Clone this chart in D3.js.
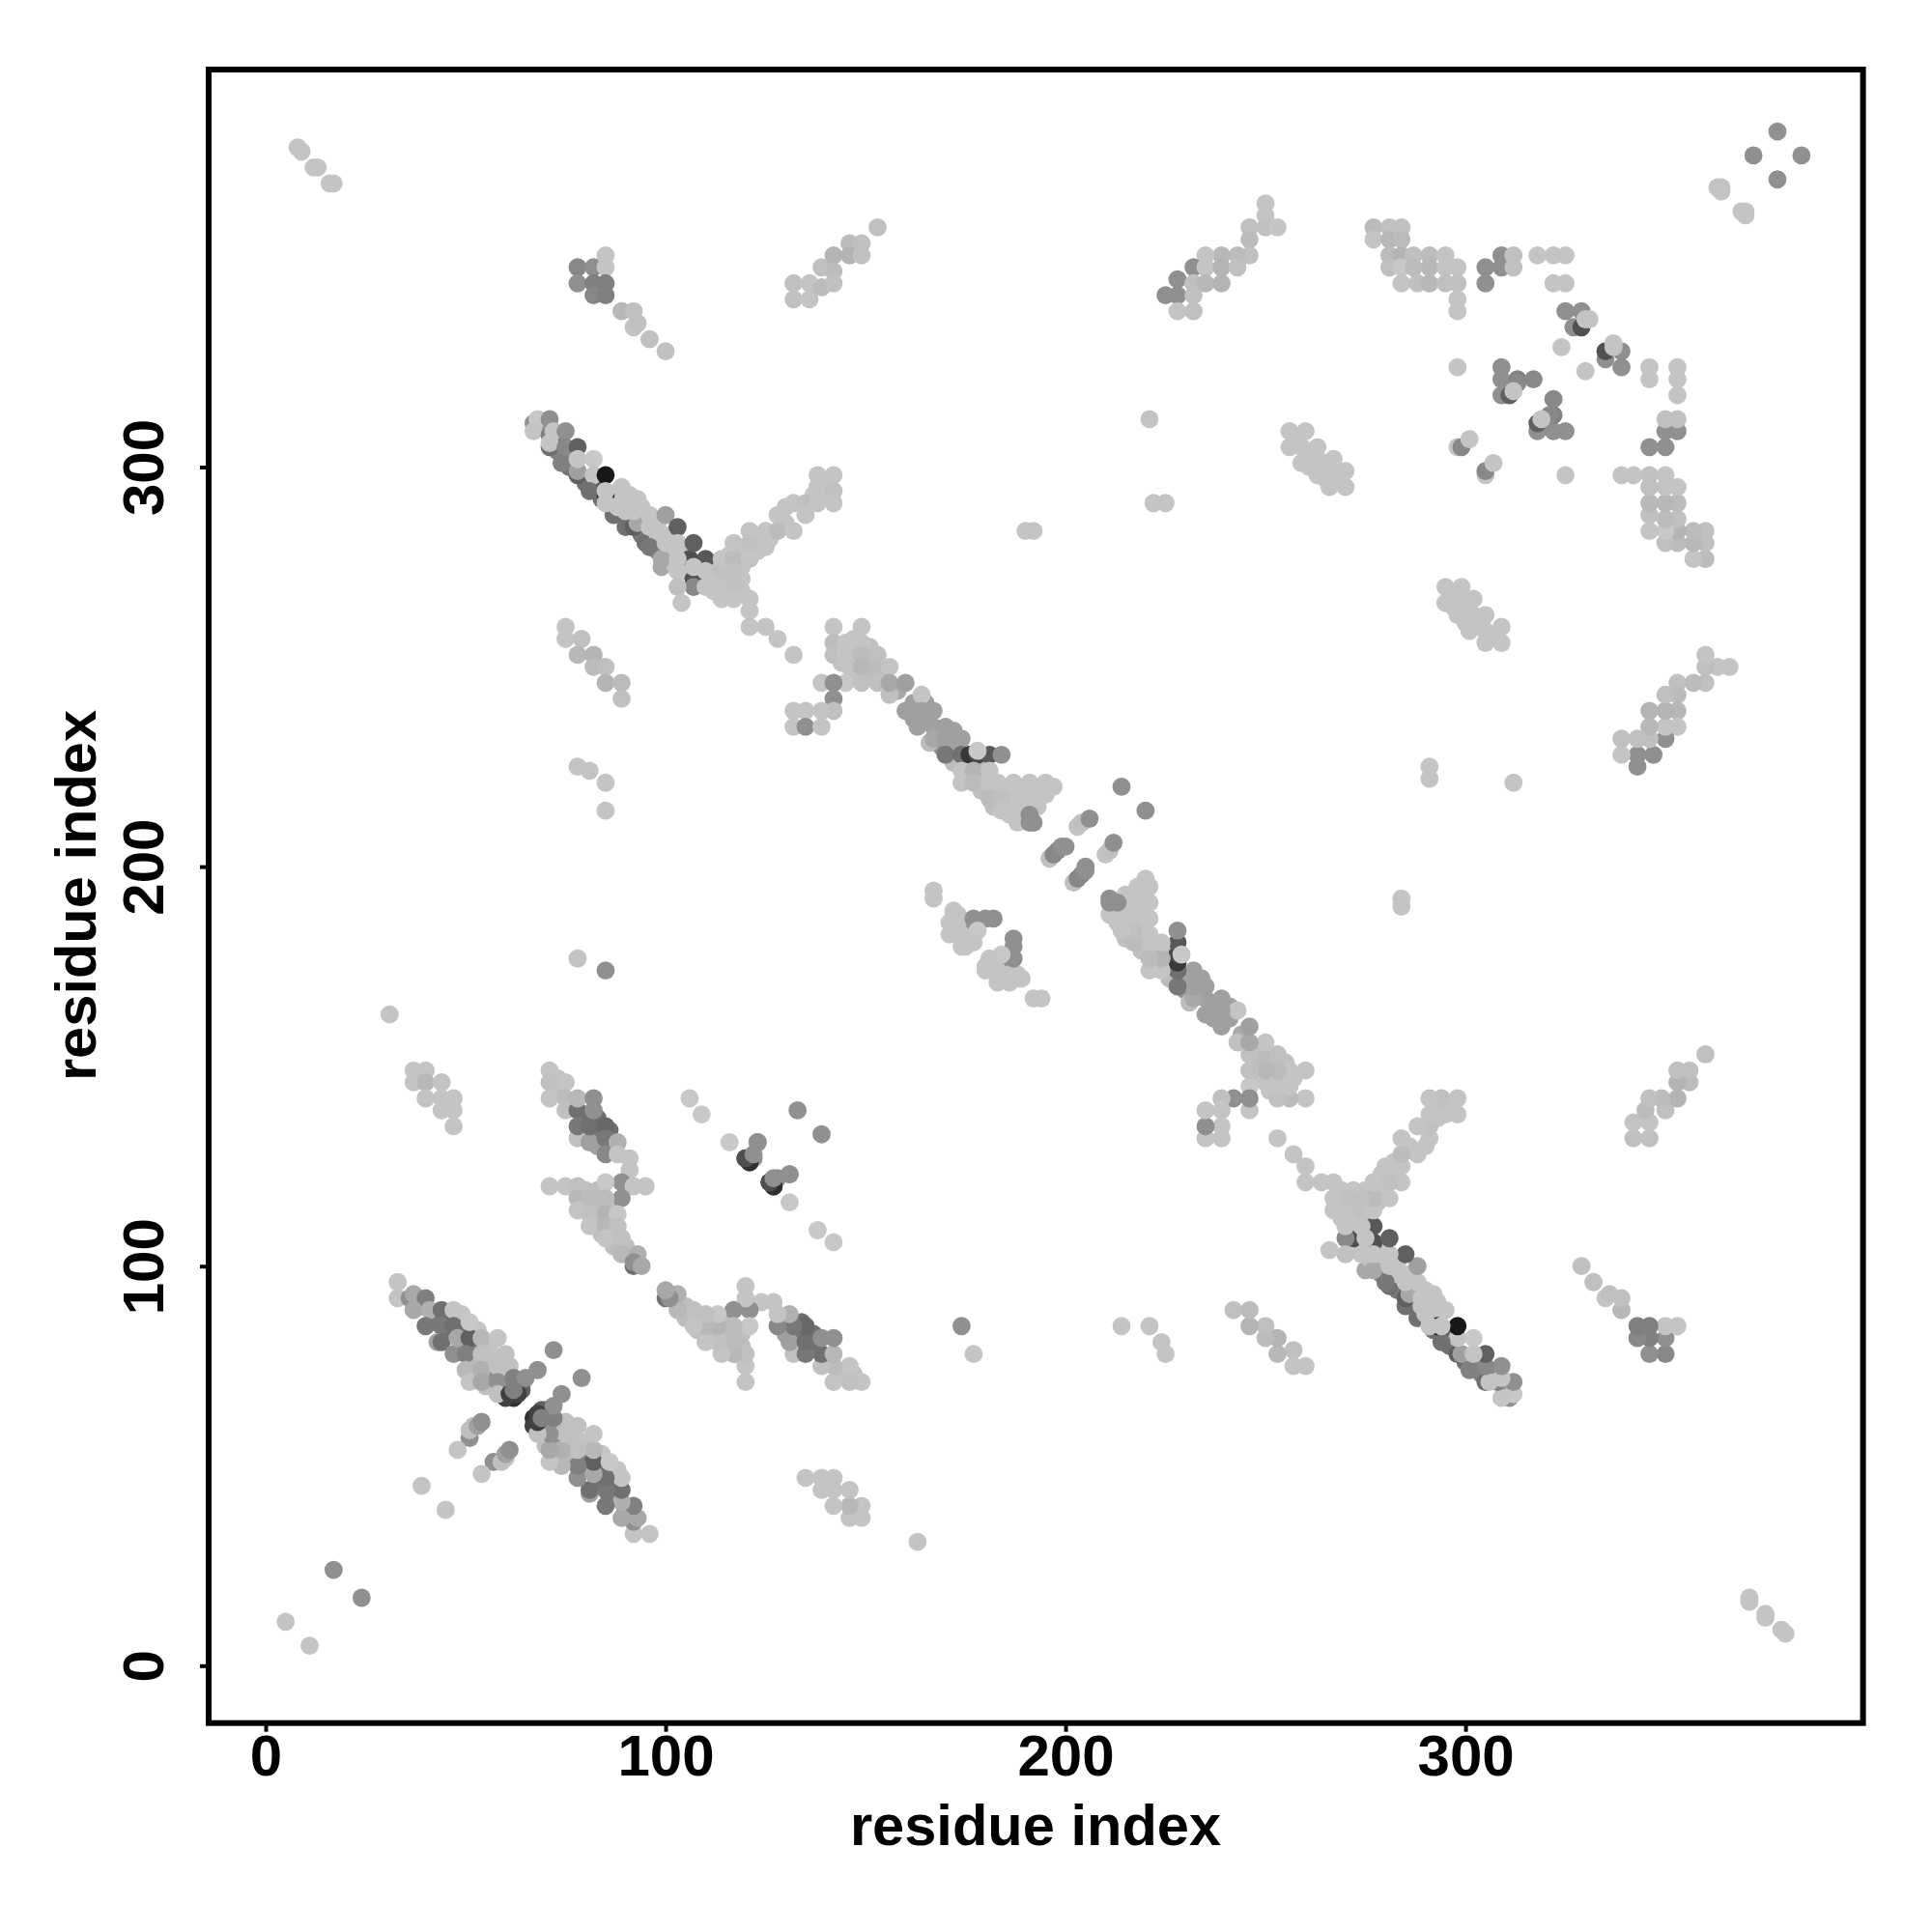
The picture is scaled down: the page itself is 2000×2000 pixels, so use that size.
<!DOCTYPE html>
<html><head><meta charset="utf-8"><script src="https://cdn.jsdelivr.net/npm/d3@7"></script>
<style>html,body{margin:0;background:#fff}svg{display:block}text{font-family:"Liberation Sans",Arial,sans-serif;font-weight:700;fill:#000}</style></head>
<body><svg id="c" width="2000" height="2000"></svg>
<script>
// Each entry: residue i, residue j, grey level of the contact. The map is symmetric.
const tickValues = [0, 100, 200, 300];
const axisTitle = "residue index";
const denseDark = [[39,90,128],[42,88,120],[42,86,120],[46,87,112],[46,83,112],[45,83,112],[49,84,112],[49,80,128],[52,80,128],[52,76,144],[56,72,144],[60,70,96],[60,72,128],[64,70,120],[63,71,136],[62,67,48],[60,67,64],[64,69,96],[69,310,160],[73,307,128],[73,304,128],[76,303,120],[76,300,112],[80,296,112],[83,295,96],[84,292,112],[87,288,112],[90,285,112],[94,283,120],[95,281,112],[98,279,136],[99,275,168],[80,137,112],[83,137,112],[80,133,120],[83,133,120],[83,130,160],[87,130,160],[86,134,112]];
const denseLight = [[53,84,196],[52,75,184],[56,78,192],[56,76,192],[56,80,196],[60,78,192],[59,73,192],[55,70,192],[49,88,196],[87,292,196],[90,289,196],[91,293,196],[94,290,196],[95,286,196],[98,286,196],[98,283,196],[101,283,196],[101,279,196],[102,276,196],[105,279,196],[105,274,196],[108,275,196],[112,273,196],[112,276,196],[112,269,196],[115,271,196],[119,272,196],[119,269,196],[119,275,196],[116,278,196],[123,279,196],[123,282,196],[126,282,196],[130,286,196],[130,290,196],[140,296,196],[140,293,196],[137,293,196],[119,279,196],[176,222,192],[179,222,192],[179,219,192],[183,218,196],[186,219,196],[186,216,196],[189,216,196],[193,220,196],[193,217,196],[193,215,196],[197,220,196],[182,215,192],[186,213,196],[190,212,196],[179,225,188],[172,226,188],[158,244,170],[162,241,160],[162,237,160],[165,237,160],[165,241,160],[168,233,160],[172,234,160],[172,230,160],[169,230,144],[154,248,190],[151,248,190],[147,254,196],[147,248,190],[151,252,190],[144,255,196],[147,257,196],[144,251,196],[151,255,192],[173,186,196],[173,184,196],[176,182,196],[172,184,196],[176,185,196],[175,180,196],[172,189,196],[173,188,196],[175,183,196],[176,181,196],[79,116,190],[82,115,190],[83,112,190],[86,115,190],[87,111,190],[84,108,190],[87,109,190],[87,105,190],[90,105,190],[83,119,190],[80,119,190],[77,140,192],[73,144,192],[73,147,192],[268,297,196],[265,297,196],[261,300,196],[261,304,196],[258,307,196]];
const isolated = [[5,11,196],[17,24,144],[8,380,196],[9,379,196],[12,375,196],[13,375,196],[16,371,196],[17,371,196],[372,378,144],[378,384,144],[363,370,196],[364,370,196],[364,369,196],[31,163,196],[78,177,196],[85,174,144],[39,45,196],[221,312,196],[222,291,196],[225,291,196],[190,284,196],[192,284,196],[214,220,144]];
const hairpinOne = [[33,96,196],[33,92,196],[36,92,144],[37,93,168],[40,92,128],[37,89,168],[41,89,176],[44,89,112],[47,89,196],[40,85,120],[44,85,120],[47,85,112],[43,81,160],[44,81,112],[47,78,144],[48,82,168],[51,82,96],[51,86,200],[54,82,184],[50,78,128],[58,82,196],[54,78,192],[50,74,184],[51,71,196],[54,74,176],[54,71,168],[58,75,192],[61,75,192],[58,71,144],[62,72,128],[65,72,144],[68,74,144],[58,68,192],[61,68,64],[63,68,64],[62,69,128],[72,79,144]];
const helixShort = [[51,57,144],[51,59,192],[52,60,192],[53,60,160],[54,61,144],[48,54,196]];
const bandUpper = [[37,149,196],[40,149,196],[37,146,196],[40,146,184],[44,146,196],[40,142,196],[44,142,196],[47,142,196],[44,139,196],[47,139,196],[47,135,196]];
const bandMiddle = [[71,149,196],[71,146,192],[71,142,196],[75,146,196],[75,142,188],[75,139,192],[78,132,192],[81,131,160],[78,139,112],[78,135,120],[81,135,112],[85,135,104],[85,132,120],[85,128,136],[78,142,184],[82,142,144],[82,139,144],[88,131,176],[88,128,196],[91,127,196],[91,124,196],[89,121,144],[92,120,196],[95,120,196],[89,117,144],[85,121,200],[71,120,196],[75,120,196],[78,120,192],[78,117,184],[81,117,188],[85,117,188],[78,114,196],[81,113,192],[85,113,180],[88,113,200],[81,110,196],[85,110,184],[88,110,192],[85,107,196],[89,107,192],[89,103,184],[92,100,112],[93,103,176],[92,101,144],[94,100,168]];
const bandRight = [[106,142,200],[109,138,200],[116,131,200],[120,127,48],[121,126,80],[123,131,144],[122,127,144],[133,139,144],[126,121,48],[127,120,80],[128,122,144],[131,123,144]];
const hairpinTwo = [[67,311,144],[68,312,200],[67,309,196],[71,312,144],[71,308,128],[72,309,196],[75,309,144],[71,305,112],[71,306,196],[75,305,136],[74,301,128],[78,305,96],[78,298,96],[78,299,160],[78,302,196],[82,302,200],[82,298,196],[81,294,112],[85,298,24],[85,293,48],[85,294,196],[89,295,196],[85,291,196],[88,290,196],[89,291,196],[93,292,196],[92,285,96],[93,286,168],[92,289,196],[96,280,120],[96,288,196],[100,288,160],[96,285,196],[103,285,96],[99,277,168],[100,281,196],[106,277,80],[103,281,196],[107,281,96],[110,277,88],[103,277,196],[103,274,196],[107,272,80],[107,270,136],[107,275,196],[103,270,192],[104,266,196],[110,274,196],[110,270,196],[114,274,192],[114,277,196],[117,277,188],[117,281,196],[121,284,196],[121,281,192],[121,277,196],[117,274,192],[114,267,196],[117,270,192],[117,267,196],[121,267,196],[121,264,196],[121,260,196],[125,260,196],[128,257,196],[132,253,196],[125,284,196],[125,280,196],[128,288,196],[128,284,188],[132,291,196],[132,284,196],[135,291,192],[135,288,196],[138,298,196],[142,298,196],[138,295,196],[142,294,192],[138,291,196],[142,291,196]];
const bandLeftUpper = [[75,260,196],[75,257,196],[79,257,192],[78,253,184],[82,253,180],[82,250,188],[85,250,192],[85,246,180],[89,246,188],[89,242,192],[78,225,196],[81,224,196],[85,221,196],[85,214,196]];
const hairpinThree = [[142,260,196],[149,260,196],[142,256,188],[145,256,196],[149,256,196],[142,253,192],[145,253,196],[149,253,188],[153,253,192],[146,250,196],[149,250,184],[153,249,188],[145,246,200],[149,246,192],[153,246,192],[139,246,196],[142,246,144],[142,242,144],[142,239,192],[139,239,196],[135,239,196],[132,239,196],[132,235,196],[135,235,144],[139,235,196],[156,250,196],[156,243,192],[156,246,168],[160,246,160],[164,243,196],[160,239,160],[164,239,160],[167,239,160],[163,235,160],[167,235,160],[170,235,160],[166,231,188],[167,232,168],[170,232,160],[174,232,160],[170,228,120],[174,228,112],[176,228,56],[178,228,72],[181,228,88],[178,229,200],[184,228,144],[174,224,196],[177,224,180],[181,224,196],[174,221,196],[177,221,188],[181,221,196],[183,221,196],[187,221,196],[191,221,196],[195,221,196],[181,217,188],[184,217,192],[188,218,196],[191,218,196],[195,218,196],[184,214,196],[188,214,196],[191,215,196],[188,211,196],[191,213,144],[191,211,144],[192,211,144]];
const helixGap = [[203,210,196],[204,211,192],[206,212,144],[196,202,192],[197,203,136],[198,204,136],[199,205,144],[200,205,144]];
const strandCluster = [[167,192,196],[167,194,196],[172,188,196],[171,186,196],[171,183,196],[175,186,196],[177,187,144],[180,187,144],[182,187,144],[177,184,144],[178,184,200],[174,183,196],[174,180,196],[177,181,196]];
const topBandOne = [[78,350,136],[82,350,144],[85,353,196],[85,350,196],[78,346,144],[82,346,128],[85,346,128],[82,343,136],[85,343,128],[89,339,184],[92,339,192],[92,335,196],[93,336,192],[96,332,192],[100,329,192]];
const topBandTwo = [[132,346,192],[132,342,192],[136,346,196],[136,342,196],[139,345,188],[139,350,192],[142,353,180],[142,349,188],[142,346,192],[146,356,188],[146,353,180],[149,356,192],[149,353,192],[153,360,192]];
const topBandThree = [[250,366,196],[250,363,196],[246,360,192],[250,360,192],[253,360,196],[246,357,188],[246,353,192],[243,353,188],[239,353,184],[235,353,196],[232,350,144],[235,350,196],[239,350,180],[243,350,192],[228,347,144],[232,346,192],[235,346,184],[239,346,180],[225,343,144],[228,343,144],[232,343,192],[228,339,196],[232,339,192]];
const lateBlock = [[256,305,196],[256,309,196],[259,301,196],[259,305,196],[260,309,196],[263,298,196],[263,302,196],[263,305,196],[266,295,196],[266,299,196],[267,302,196],[270,295,196],[270,299,196]];
const cornerCluster = [[277,360,188],[281,360,192],[284,360,192],[277,357,196],[281,357,184],[284,357,188],[281,353,188],[284,353,180],[287,353,192],[291,353,188],[295,353,196],[281,350,192],[284,350,200],[287,350,188],[291,350,184],[295,350,196],[298,350,196],[284,346,196],[288,346,192],[291,346,184],[295,346,192],[298,346,192],[298,342,196],[298,339,196],[305,350,144],[305,346,144],[309,353,144],[309,350,144],[312,353,192],[312,350,192],[318,353,196],[322,353,196],[325,353,196],[322,346,196],[325,346,196],[325,339,144],[329,339,144],[327,335,144],[329,335,80],[330,337,196],[331,337,196],[324,330,196],[298,325,196],[309,325,144],[309,322,144],[313,322,128],[317,322,136],[309,318,144],[311,318,96],[313,321,136],[312,319,196],[298,305,196],[299,305,136],[301,307,196]];
const allContacts = [].concat(denseDark, denseLight, isolated, hairpinOne, helixShort, bandUpper, bandMiddle, bandRight, hairpinTwo, bandLeftUpper, hairpinThree, helixGap, strandCluster, topBandOne, topBandTwo, topBandThree, lateBlock, cornerCluster);

const frame = {l:216, r:1928.6, t:72, b:1783.7};
const x = d3.scaleLinear().domain([-14.25,399.4]).range([frame.l,frame.r]);
const y = d3.scaleLinear().domain([-14.36,399.5]).range([frame.b,frame.t]);
const svg = d3.select("#c");
const gray = s => d3.rgb(s,s,s).formatHex();

const pts = svg.append("g");
for (const [key, flip] of [["a",false],["b",true]]) {
  pts.selectAll("circle."+key).data(allContacts).enter().append("circle").attr("class",key)
    .attr("cx", d => x(flip ? d[1] : d[0]))
    .attr("cy", d => y(flip ? d[0] : d[1]))
    .attr("r", 9.4).attr("fill", d => gray(d[2]));
}
svg.append("rect").attr("x",frame.l).attr("y",frame.t).attr("width",frame.r-frame.l).attr("height",frame.b-frame.t)
  .attr("fill","none").attr("stroke","#000").attr("stroke-width",6);

const gx = svg.append("g").attr("transform",`translate(0,${frame.b})`)
  .call(d3.axisBottom(x).tickValues(tickValues).tickSize(9).tickPadding(0).tickFormat(d3.format("d")));
gx.select(".domain").remove();
gx.selectAll(".tick line").attr("stroke","#000").attr("stroke-width",4);
gx.selectAll(".tick text").attr("y",54.5).attr("dy",0).attr("font-size",60).style("font-family",'"Liberation Sans"').style("font-weight",700);

const gy = svg.append("g").attr("transform",`translate(${frame.l},0)`)
  .call(d3.axisLeft(y).tickValues(tickValues).tickSize(9).tickPadding(0).tickFormat(d3.format("d")));
gy.select(".domain").remove();
gy.selectAll(".tick line").attr("stroke","#000").attr("stroke-width",4);
gy.selectAll(".tick text").attr("transform","translate(-47,0) rotate(-90)").attr("x",0).attr("y",0).attr("dy",0).attr("text-anchor","middle").attr("font-size",60).style("font-family",'"Liberation Sans"').style("font-weight",700);

svg.append("text").attr("x",1072).attr("y",1910).attr("text-anchor","middle").attr("font-size",59.6).text(axisTitle);
svg.append("text").attr("transform","translate(99,927) rotate(-90)").attr("text-anchor","middle").attr("font-size",59.6).text(axisTitle);
</script></body></html>
